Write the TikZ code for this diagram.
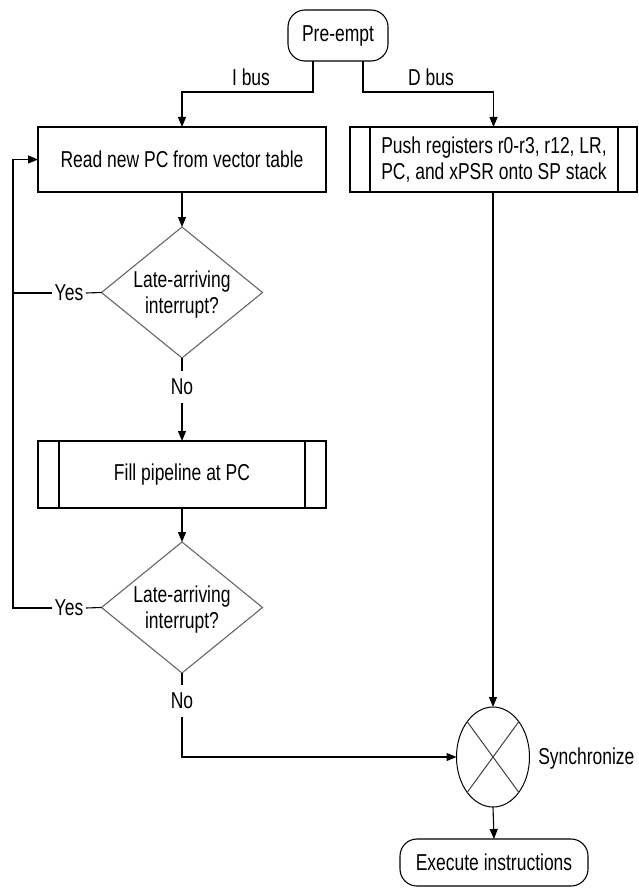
\documentclass[tikz,border=0pt]{standalone}
\usepackage{fontspec}
\setmainfont{Liberation Sans}[FakeStretch=0.76]
\usetikzlibrary{arrows.meta,shapes.geometric,calc}

\begin{document}
\begin{tikzpicture}[x=1pt,y=-1pt,
  font=\fontsize{23}{26}\selectfont,
  line width=1.1pt,
  flow/.style={-{Triangle[length=10pt,width=8pt]}},
  terminal/.style={draw, rounded corners=17pt, inner sep=0pt, outer sep=0pt},
  procbox/.style={draw, inner sep=0pt, outer sep=0pt},
  decision/.style={draw=black!60, diamond, inner sep=0pt, outer sep=0pt,
                   minimum width=161pt, minimum height=131pt},
  junction/.style={draw, ellipse, line width=1pt, inner sep=0pt, outer sep=0pt,
                   minimum width=73pt, minimum height=100pt},
  yeslabel/.style={inner xsep=2pt, inner ysep=2pt},
  nolabel/.style={inner xsep=2pt, inner ysep=7pt},
  buslabel/.style={inner sep=0pt}
]
\useasboundingbox (0,0) rectangle (638,888);

% terminals
\node[terminal, minimum width=100pt, minimum height=51pt] (pre) at (338,35.5) {Pre-empt};
\node[terminal, minimum width=188pt, minimum height=47pt] (exec) at (494,862.5) {Execute instructions};

% process boxes
\node[procbox, minimum width=288pt, minimum height=65pt] (read) at (182,159.5) {Read new PC from vector table};
\node[procbox, minimum width=287pt, minimum height=65pt] (push) at (493.5,159.5) {};
\node[align=center] (pusht) at (494,160) {Push registers r0-r3, r12, LR,\\PC, and xPSR onto SP stack};
\node[procbox, minimum width=288pt, minimum height=67pt] (fill) at (182,474.5) {Fill pipeline at PC};

% side bars of the predefined-process boxes
\draw ([xshift=20pt]push.north west) -- ([xshift=20pt]push.south west);
\draw ([xshift=-19pt]push.north east) -- ([xshift=-19pt]push.south east);
\draw ([xshift=21pt]fill.north west) -- ([xshift=21pt]fill.south west);
\draw ([xshift=-21pt]fill.north east) -- ([xshift=-21pt]fill.south east);

% decisions
\node[decision] (d1) at (182,292.5) {};
\node[align=center] (d1t) at (182,295) {Late-arriving\\interrupt?};
\node[decision] (d2) at (182,607.5) {};
\node[align=center] (d2t) at (182,610) {Late-arriving\\interrupt?};

% synchronisation point
\node[junction] (sync) at (493,757) {};
\draw[black!75, line width=1pt] (sync.north east) -- (sync.south west);
\draw[black!75, line width=1pt] (sync.north west) -- (sync.south east);
\node[anchor=east, inner sep=0pt] (synct) at (635,759) {Synchronize};

% labels on connectors
\node[buslabel] (ibus) at (251,77) {I bus};
\node[buslabel] (dbus) at (431,77) {D bus};
\node[yeslabel] (yes1) at (69,293) {Yes};
\node[yeslabel] (yes2) at (69,608) {Yes};
\node[nolabel] (no1) at (182,387) {No};
\node[nolabel] (no2) at (182,701) {No};

\coordinate (loop) at (13,159.5);

% connectors
\draw[flow] ([xshift=-25pt]pre.south) -- ++(0,31) -| (read.north);
\draw[flow] ([xshift=25pt]pre.south) -- ++(0,31) -| (push.north);
\draw[flow] (read.south) -- (d1.north);
\draw (d1.west) -- (yes1.east);
\draw (yes1.west) -- (yes1.west -| loop);
\draw (d1.south) -- (no1.north);
\draw[flow] (no1.south) -- (fill.north);
\draw[flow] (fill.south) -- (d2.north);
\draw (d2.west) -- (yes2.east);
\draw[flow] (yes2.west) -| (loop) -- (read.west);
\draw (d2.south) -- (no2.north);
\draw[flow] (no2.south) |- (sync.west);
\draw[flow] (push.south -| sync.north) -- (sync.north);
\draw[flow] (sync.south) -- (exec.north);
\end{tikzpicture}
\end{document}
